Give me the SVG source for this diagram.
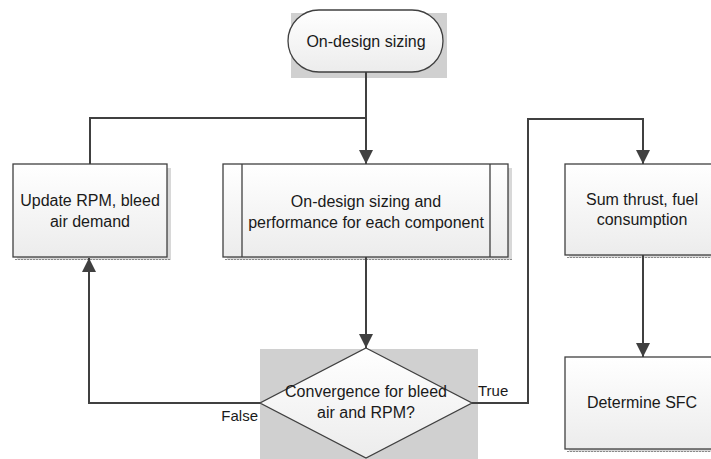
<svg xmlns="http://www.w3.org/2000/svg" width="711" height="459" viewBox="0 0 711 459">
  <style>
    .box { fill: url(#boxFill); stroke: #404040; stroke-width: 1.3; }
    .shadow { fill: #d8d8d8; }
    .dash { stroke: #8a8a8a; stroke-width: 1; stroke-dasharray: 2 1; fill: none; }
    .halo { fill: #d0d0d0; }
    .lbl { font-family: "Liberation Sans", Arial, sans-serif; font-size: 16px; fill: #1a1a1a; text-anchor: middle; }
    .edge { fill: none; stroke: #404040; stroke-width: 2; }
    .cond { font-family: "Liberation Sans", Arial, sans-serif; font-size: 15px; fill: #1a1a1a; }
  </style>
  <defs>
    <linearGradient id="boxFill" x1="0" y1="0" x2="0" y2="1">
      <stop offset="0" stop-color="#ffffff"/>
      <stop offset="1" stop-color="#ececec"/>
    </linearGradient>
    <marker id="arrow" viewBox="0 0 14 14" refX="14" refY="7" markerWidth="14" markerHeight="14" markerUnits="userSpaceOnUse" orient="auto">
      <path d="M0,0 L14,7 L0,14 Z" fill="#404040"/>
    </marker>
  </defs>

  <rect width="711" height="459" fill="#ffffff"/>

  <!-- start terminal -->
  <g id="start">
    <rect class="halo" x="291" y="13" width="156" height="65"/>
    <rect x="288" y="10" width="155" height="62" rx="31" ry="31" fill="url(#boxFill)" stroke="#404040" stroke-width="1.3"/>
    <text class="lbl" x="366" y="47">On-design sizing</text>
  </g>

  <!-- update RPM / bleed demand -->
  <g id="update">
    <rect class="shadow" x="17" y="168" width="154" height="92"/>
    <rect class="box" x="13" y="164" width="154" height="93"/>
    <line class="dash" x1="15" y1="259.5" x2="171" y2="259.5"/>
    <text class="lbl" x="90" y="206">Update RPM, bleed</text>
    <text class="lbl" x="90" y="227">air demand</text>
  </g>

  <!-- predefined process: component sizing -->
  <g id="sizing">
    <rect class="shadow" x="227" y="168" width="285" height="92"/>
    <rect class="box" x="223" y="164" width="285" height="93"/>
    <line x1="242" y1="164" x2="242" y2="257" stroke="#404040" stroke-width="1.3"/>
    <line x1="490" y1="164" x2="490" y2="257" stroke="#404040" stroke-width="1.3"/>
    <line class="dash" x1="225" y1="259.5" x2="512" y2="259.5"/>
    <text class="lbl" x="366" y="207">On-design sizing and</text>
    <text class="lbl" x="366" y="228">performance for each component</text>
  </g>

  <!-- sum thrust / fuel -->
  <g id="sum">
    <rect class="shadow" x="569" y="168" width="150" height="90"/>
    <rect class="box" x="565" y="164" width="150" height="91"/>
    <line class="dash" x1="567" y1="257.5" x2="711" y2="257.5"/>
    <text class="lbl" x="642" y="205">Sum thrust, fuel</text>
    <text class="lbl" x="642" y="225">consumption</text>
  </g>

  <!-- determine SFC -->
  <g id="sfc">
    <rect class="shadow" x="569" y="361" width="150" height="91"/>
    <rect class="box" x="565" y="357" width="150" height="92"/>
    <line class="dash" x1="567" y1="451.5" x2="711" y2="451.5"/>
    <text class="lbl" x="642" y="408">Determine SFC</text>
  </g>

  <!-- convergence decision -->
  <g id="decision">
    <rect class="halo" x="260" y="349" width="218" height="110"/>
    <polygon points="366,348 472,403 366,458 260,403" fill="url(#boxFill)" stroke="#404040" stroke-width="1.3"/>
    <text class="lbl" x="366" y="397">Convergence for bleed</text>
    <text class="lbl" x="366" y="418">air and RPM?</text>
  </g>

  <!-- connectors -->
  <g id="connectors">
    <path class="edge" d="M366,72 V164" marker-end="url(#arrow)"/>
    <path class="edge" d="M366,118 H90 V164"/>
    <path class="edge" d="M366,257 V348" marker-end="url(#arrow)"/>
    <path class="edge" d="M260,403 H89 V258" marker-end="url(#arrow)"/>
    <path class="edge" d="M472,403 H528 V119 H643 V164" marker-end="url(#arrow)"/>
    <path class="edge" d="M643,255 V357" marker-end="url(#arrow)"/>
    <text class="cond" x="478" y="396">True</text>
    <text class="cond" x="258" y="421" text-anchor="end">False</text>
  </g>
</svg>
